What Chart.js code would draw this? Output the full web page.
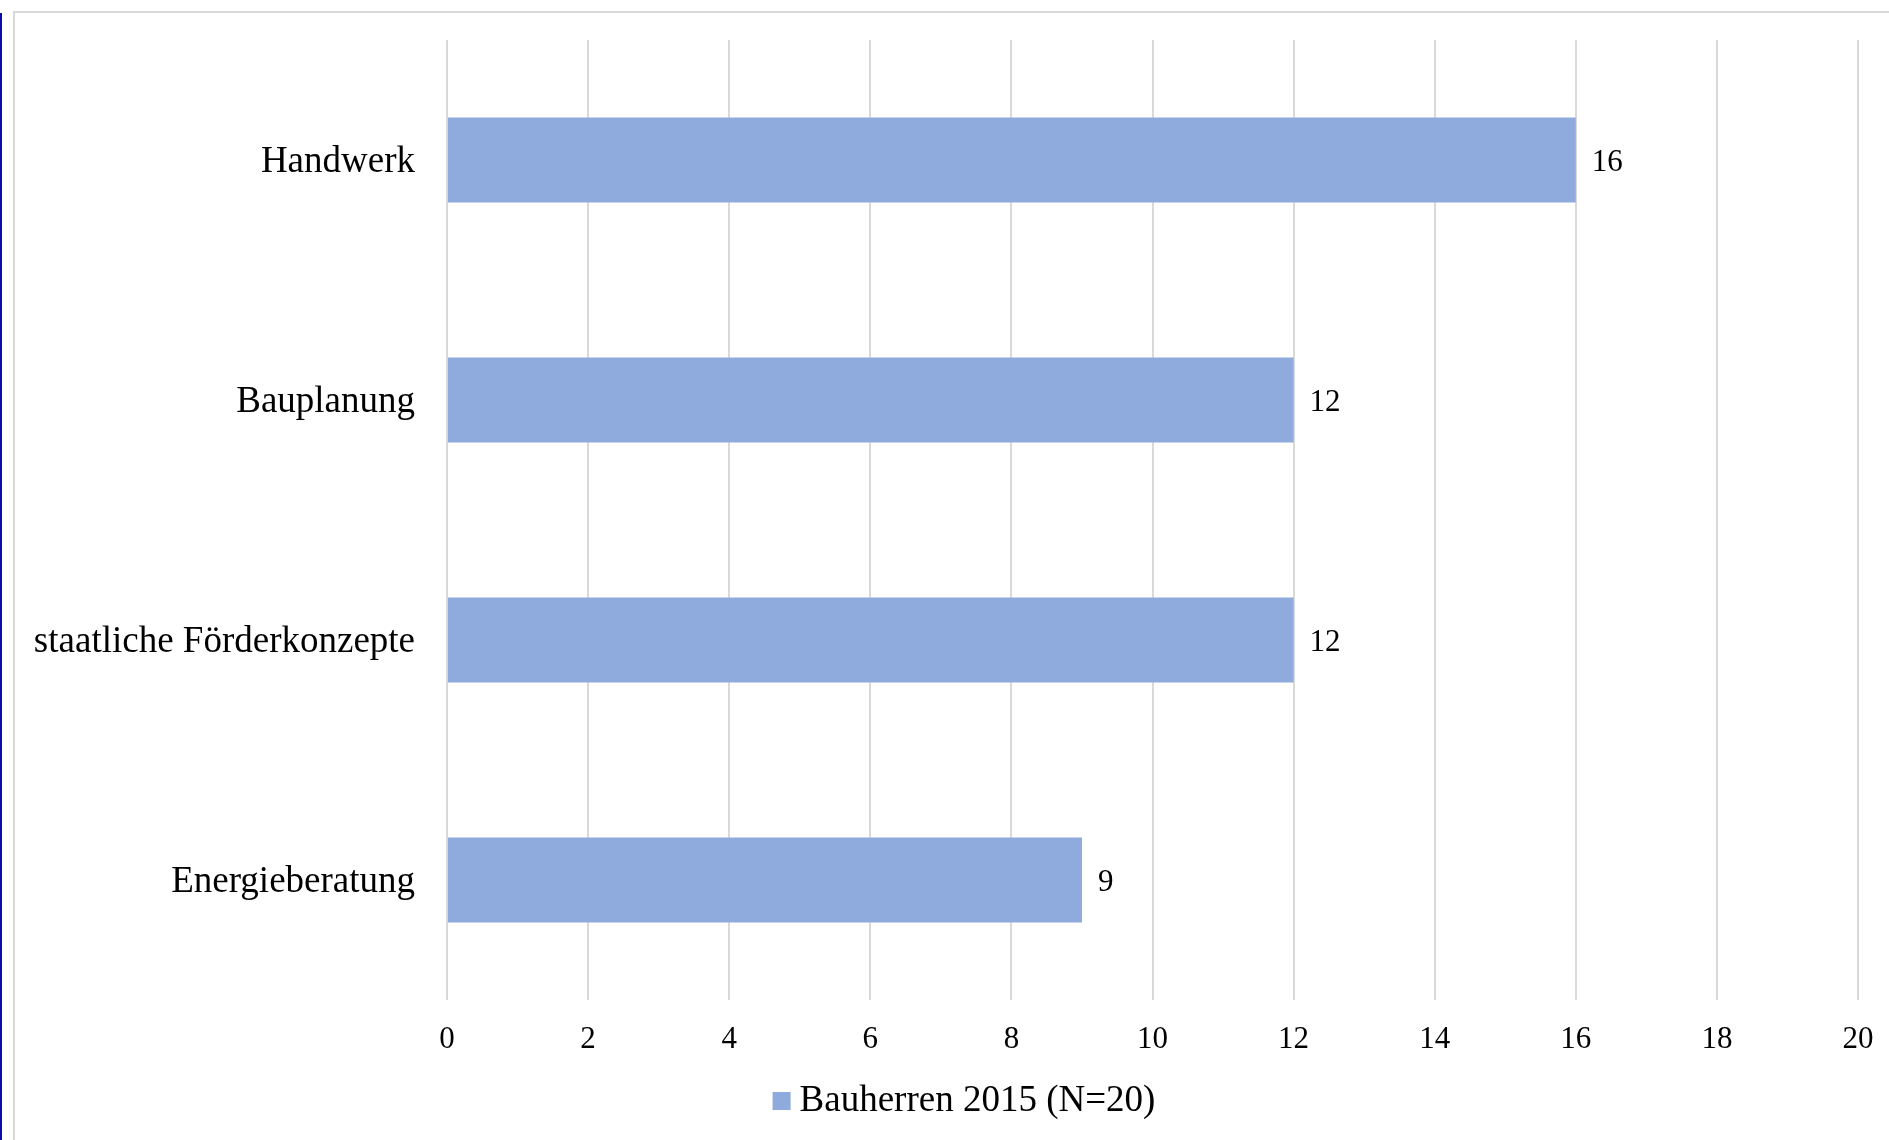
<!DOCTYPE html>
<html>
<head>
<meta charset="utf-8">
<script src="https://cdn.jsdelivr.net/npm/chart.js@4/dist/chart.umd.min.js"></script>
<style>
  html, body { margin: 0; padding: 0; background: #fff; overflow: hidden; }
  body { width: 1889px; height: 1140px; position: relative; }
  #edge { position: absolute; left: 0; top: 13px; width: 2px; height: 1127px; background: #0b0baa; }
  #frame { position: absolute; left: 13px; top: 11px; width: 1920px; height: 1200px;
           border: 2px solid #d9d9d9; box-sizing: border-box; }
  #wrap { position: absolute; left: 0; top: 0; width: 1889px; height: 1140px; }
</style>
</head>
<body>
<div id="edge"></div>
<div id="frame"></div>
<div id="wrap"><canvas id="chart"></canvas></div>
<script>
// Survey answers: number of builders naming each source
const categories = ['Handwerk', 'Bauplanung', 'staatliche Förderkonzepte', 'Energieberatung'];
const values = [16, 12, 12, 9];
const seriesLabel = 'Bauherren 2015 (N=20)';
const xTickValues = [0, 2, 4, 6, 8, 10, 12, 14, 16, 18, 20];

const FONT = '"Liberation Serif", "Times New Roman", serif';
const BAR_COLOR = '#8FAADC';

// Value printed just right of each bar end
const valueLabels = {
  id: 'valueLabels',
  afterDatasetsDraw(chart) {
    const { ctx } = chart;
    const meta = chart.getDatasetMeta(0);
    const data = chart.data.datasets[0].data;
    ctx.save();
    ctx.font = '31px ' + FONT;
    ctx.fillStyle = '#000';
    ctx.textAlign = 'left';
    ctx.textBaseline = 'middle';
    meta.data.forEach((bar, i) => {
      ctx.fillText(String(data[i]), bar.x + 16, bar.y + 3);
    });
    ctx.restore();
  }
};

// Single-entry legend below the axis
const bottomLegend = {
  id: 'bottomLegend',
  afterDraw(chart) {
    const { ctx } = chart;
    const ds = chart.data.datasets[0];
    ctx.save();
    ctx.font = '37px ' + FONT;
    const tw = ctx.measureText(ds.label).width;
    const box = 18, gap = 9;
    const total = box + gap + tw;
    const cx = 964;
    const cy = 1100;
    const x0 = cx - total / 2;
    ctx.fillStyle = ds.backgroundColor;
    ctx.fillRect(x0, cy - box / 2 + 1, box, box);
    ctx.fillStyle = '#000';
    ctx.textAlign = 'left';
    ctx.textBaseline = 'middle';
    ctx.fillText(ds.label, x0 + box + gap, cy + 1);
    ctx.restore();
  }
};

new Chart(document.getElementById('chart'), {
  type: 'bar',
  data: {
    labels: categories,
    datasets: [{
      label: seriesLabel,
      data: values,
      backgroundColor: BAR_COLOR,
      borderWidth: 0,
      barPercentage: 0.354,
      categoryPercentage: 1.0
    }]
  },
  options: {
    indexAxis: 'y',
    responsive: true,
    maintainAspectRatio: false,
    devicePixelRatio: 1,
    animation: false,
    layout: { padding: { top: 40, right: 31, bottom: 80, left: 0 } },
    plugins: {
      legend: { display: false },
      tooltip: { enabled: false }
    },
    scales: {
      x: {
        type: 'linear',
        position: 'bottom',
        min: xTickValues[0],
        max: xTickValues[xTickValues.length - 1],
        afterBuildTicks(scale) {
          scale.ticks = xTickValues.map(v => ({ value: v }));
        },
        grid: { color: '#d9d9d9', lineWidth: 2, drawTicks: false },
        border: { display: false },
        ticks: {
          font: { family: FONT, size: 31 },
          color: '#000',
          padding: 21,
          maxRotation: 0
        },
        afterFit(scale) {
          scale.height = 60;
          scale.paddingLeft = 0;
          scale.paddingRight = 0;
        }
      },
      y: {
        grid: { display: false, drawTicks: false },
        border: { display: false },
        ticks: {
          font: { family: FONT, size: 37 },
          color: '#000',
          padding: 32,
          labelOffset: 2
        },
        afterFit(scale) {
          scale.width = 447;
          scale.paddingTop = 0;
          scale.paddingBottom = 0;
        }
      }
    }
  },
  plugins: [valueLabels, bottomLegend]
});
</script>
</body>
</html>
